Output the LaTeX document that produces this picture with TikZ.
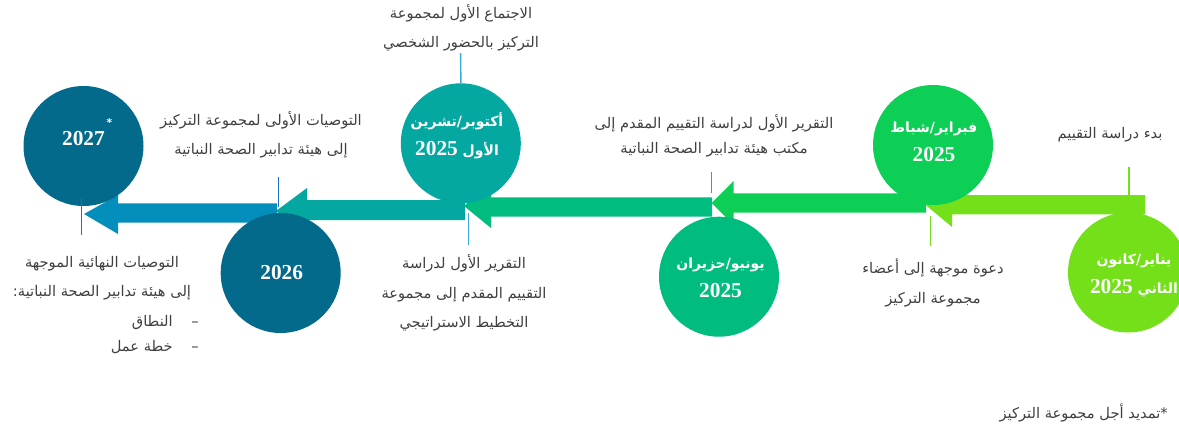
\documentclass[tikz,border=0pt]{standalone}
\usepackage{fontspec}
\usepackage{xcolor}
\usetikzlibrary{positioning}
\TeXXeTstate=1
\newfontfamily\arabicfont[Script=Arabic]{DejaVu Sans}
\newfontfamily\digitfont{Liberation Serif}
\newcommand{\yearnum}[1]{{\digitfont\fontsize{16}{21.5}\selectfont #1}}
\definecolor{deepteal}{RGB}{4,106,140}
\definecolor{oceanblue}{RGB}{4,142,187}
\definecolor{tealmark}{RGB}{5,168,160}
\definecolor{greenmark}{RGB}{0,188,126}
\definecolor{brightmark}{RGB}{13,207,85}
\definecolor{limemark}{RGB}{116,224,26}
\definecolor{textgray}{RGB}{64,64,64}
\definecolor{linkblue}{RGB}{28,112,200}
\definecolor{linksky}{RGB}{60,170,225}
\definecolor{linkgreen}{RGB}{20,185,130}

\begin{document}
\begin{tikzpicture}[x=0.75pt, y=-0.75pt,
    milestone/.style={circle, minimum size=90pt, inner sep=0pt},
    datelabel/.style={text=white, align=center, inner sep=0pt, font=\arabicfont\bfseries\fontsize{10.5}{21.5}\selectfont},
    note/.style={text=textgray, align=center, inner sep=0pt, font=\arabicfont\fontsize{11}{22}\selectfont},
    leader/.style={line width=1.1pt}]
    \useasboundingbox (0,0) rectangle (1179,430);

    % Timeline arrows (right to left)
    \fill[limemark] (925.7,205) -- (952,183) -- (952,195) -- (1145,195) -- (1145,214.3) -- (952,214.3) -- (952,227) -- cycle;
    \fill[brightmark] (711.7,203) -- (733.5,181) -- (733.5,193.3) -- (926,193.3) -- (926,212.7) -- (733.5,212.7) -- (733.5,225) -- cycle;
    \fill[greenmark] (464,206) -- (491,184) -- (491,197.3) -- (712,197.3) -- (712,216.7) -- (491,216.7) -- (491,228) -- cycle;
    \fill[tealmark] (276,211) -- (307,188) -- (307,200) -- (465,200) -- (465,220) -- (307,220) -- (307,234) -- cycle;
    \fill[oceanblue] (84,214) -- (118,195) -- (118,203.3) -- (277,203.3) -- (277,222.7) -- (118,222.7) -- (118,234) -- cycle;

    % Milestones
    \node[milestone, fill=deepteal] (c2027) at (83.5,146) {};
    \node[milestone, fill=deepteal] (c2026) at (280.7,273) {};
    \node[milestone, fill=tealmark] (cOct) at (460.8,143.3) {};
    \node[milestone, fill=greenmark] (cJun) at (719,276.7) {};
    \node[milestone, fill=brightmark] (cFeb) at (933,145) {};
    \node[milestone, fill=limemark] (cJan) at (1128,272.5) {};

    \node[datelabel] (d2027) at (83.5,139) {\yearnum{2027}\rlap{\smash{\raisebox{2.6ex}{\fontsize{8}{8}\selectfont\,*}}}};
    \node[datelabel] (d2026) at (281.7,273) {\yearnum{2026}};
    \node[datelabel] (dOct) at (457,136) {\beginR أكتوبر/تشرين\endR\\\beginR الأول \yearnum{2025}\endR};
    \node[datelabel] (dJun) at (720.5,278) {\beginR يونيو/حزيران\endR\\\yearnum{2025}};
    \node[datelabel] (dFeb) at (934,142) {\beginR فبراير/شباط\endR\\\yearnum{2025}};
    \node[datelabel] (dJan) at (1134,275.5) {\beginR يناير/كانون\endR\\\beginR الثاني \yearnum{2025}\endR};

    % Descriptions
    \node[note] (tMeet) at (461,28) {\beginR الاجتماع الأول لمجموعة\endR\\\beginR التركيز بالحضور الشخصي\endR};
    \node[note] (tFirst) at (261,135) {\beginR التوصيات الأولى لمجموعة التركيز\endR\\\beginR إلى هيئة تدابير الصحة النباتية\endR};
    \node[note] (tFinal) at (102,278) {\beginR التوصيات النهائية الموجهة\endR\\\beginR إلى هيئة تدابير الصحة النباتية:\endR};
    \node[note, anchor=east, align=right, font=\arabicfont\fontsize{11}{18.75}\selectfont] (tScope) at (199,334.5) {\beginR –\hspace{14pt}النطاق\endR\\\beginR –\hspace{14pt}خطة عمل\endR};
    \node[note] (tStrat) at (464,293) {\beginR التقرير الأول لدراسة\endR\\\beginR التقييم المقدم إلى مجموعة\endR\\\beginR التخطيط الاستراتيجي\endR};
    \node[note, font=\arabicfont\fontsize{11}{18.75}\selectfont] (tOffice) at (714,135.5) {\beginR التقرير الأول لدراسة التقييم المقدم إلى\endR\\\beginR مكتب هيئة تدابير الصحة النباتية\endR};
    \node[note] (tInvite) at (933,283) {\beginR دعوة موجهة إلى أعضاء\endR\\\beginR مجموعة التركيز\endR};
    \node[note] (tStart) at (1110,135) {\beginR بدء دراسة التقييم\endR};
    \node[note, anchor=east] (tExtend) at (1168,413) {\beginR *\hbox{}تمديد أجل مجموعة التركيز\endR};

    % Leaders
    \coordinate (a2027) at (81.5,198);
    \coordinate (b2027) at (81.5,235);
    \coordinate (a2026) at (278.7,177);
    \coordinate (b2026) at (278.7,207);
    \coordinate (aOct) at (460.7,53);
    \coordinate (aStrat) at (468.3,213);
    \coordinate (bStrat) at (468.3,245);
    \coordinate (aOffice) at (711.7,172);
    \coordinate (bOffice) at (711.7,193.3);
    \coordinate (aInvite) at (930.7,216);
    \coordinate (bInvite) at (930.7,246);
    \coordinate (aStart) at (1129,167);
    \coordinate (bStart) at (1129,195);
    \draw[leader, linkblue] (a2027) -- (b2027);
    \draw[leader, linkblue] (a2026) -- (b2026);
    \draw[leader, linksky] (aOct) -- (cOct.north);
    \draw[leader, linksky] (aStrat) -- (bStrat);
    \draw[leader, linkgreen] (aOffice) -- (bOffice);
    \draw[leader, limemark] (aInvite) -- (bInvite);
    \draw[leader, limemark] (aStart) -- (bStart);
\end{tikzpicture}
\end{document}
